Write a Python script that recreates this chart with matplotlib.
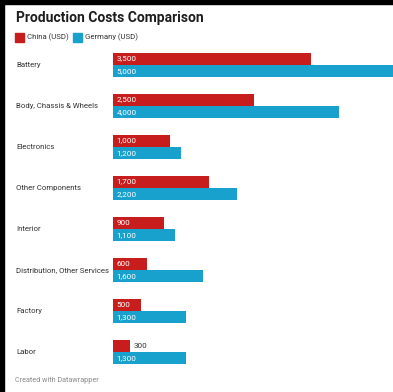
import matplotlib
matplotlib.use('Agg')
import matplotlib.pyplot as plt
from matplotlib.patches import Rectangle
import numpy as np

categories = ["Battery", "Body, Chassis & Wheels", "Electronics", "Other Components",
              "Interior", "Distribution, Other Services", "Factory", "Labor"]
china = [3500, 2500, 1000, 1700, 900, 600, 500, 300]
germany = [5000, 4000, 1200, 2200, 1100, 1600, 1300, 1300]

RED = "#c71e1d"
BLUE = "#18a1cd"
TEXT = "#333333"
W, H = 393, 392

plt.rcParams['font.family'] = ['Roboto', 'DejaVu Sans']

fig = plt.figure(figsize=(W / 100, H / 100), dpi=100)
fig.patch.set_facecolor("white")

# black frame on top and left edges
fig.patches.append(Rectangle((0, 1 - 4 / H), 1, 4 / H, transform=fig.transFigure,
                             color="black", zorder=10))
fig.patches.append(Rectangle((0, 0), 4 / W, 1, transform=fig.transFigure,
                             color="black", zorder=10))

left = 113 / W
ax = fig.add_axes([left, 1 - 372.5 / H, 1 - left, (372.5 - 44.5) / H])
ax.set_xlim(0, 280 / 56.5 * 1000)
ax.set_ylim(len(categories) - 0.5, -0.5)
ax.axis("off")

y = np.arange(len(categories))
bh = 0.295
off = 0.155
ax.barh(y - off, china, height=bh, color=RED)
ax.barh(y + off, germany, height=bh, color=BLUE)

px = 1000 / 56.5  # data units per pixel
for i in range(len(categories)):
    for val, yy in ((china[i], y[i] - off), (germany[i], y[i] + off)):
        if val / px > 22:
            ax.text(3.5 * px, yy, f"{val:,}", color="white", fontsize=5.9,
                    ha="left", va="center")
        else:
            ax.text(val + 4 * px, yy, f"{val:,}", color=TEXT, fontsize=5.9,
                    ha="left", va="center")
    ax.text(-97 * px, y[i], categories[i], color=TEXT, fontsize=5.6,
            ha="left", va="center", clip_on=False)

# title and legend
fig.text(16 / W, 1 - 18 / H, "Production Costs Comparison", fontsize=10,
         fontweight="bold", color="#1d1d1d", ha="left", va="center")
for x0, col, lab in ((15, RED, "China (USD)"), (73, BLUE, "Germany (USD)")):
    fig.patches.append(Rectangle((x0 / W, 1 - 42 / H), 9 / W, 9 / H,
                                 transform=fig.transFigure, color=col))
    fig.text((x0 + 12) / W, 1 - 37.5 / H, lab, fontsize=5.6, color=TEXT,
             ha="left", va="center")

fig.text(15 / W, 1 - 381 / H, "Created with Datawrapper", fontsize=5.2,
         color="#8a8a8a", ha="left", va="center")

fig.savefig("out.png", dpi=100, facecolor=fig.get_facecolor())
